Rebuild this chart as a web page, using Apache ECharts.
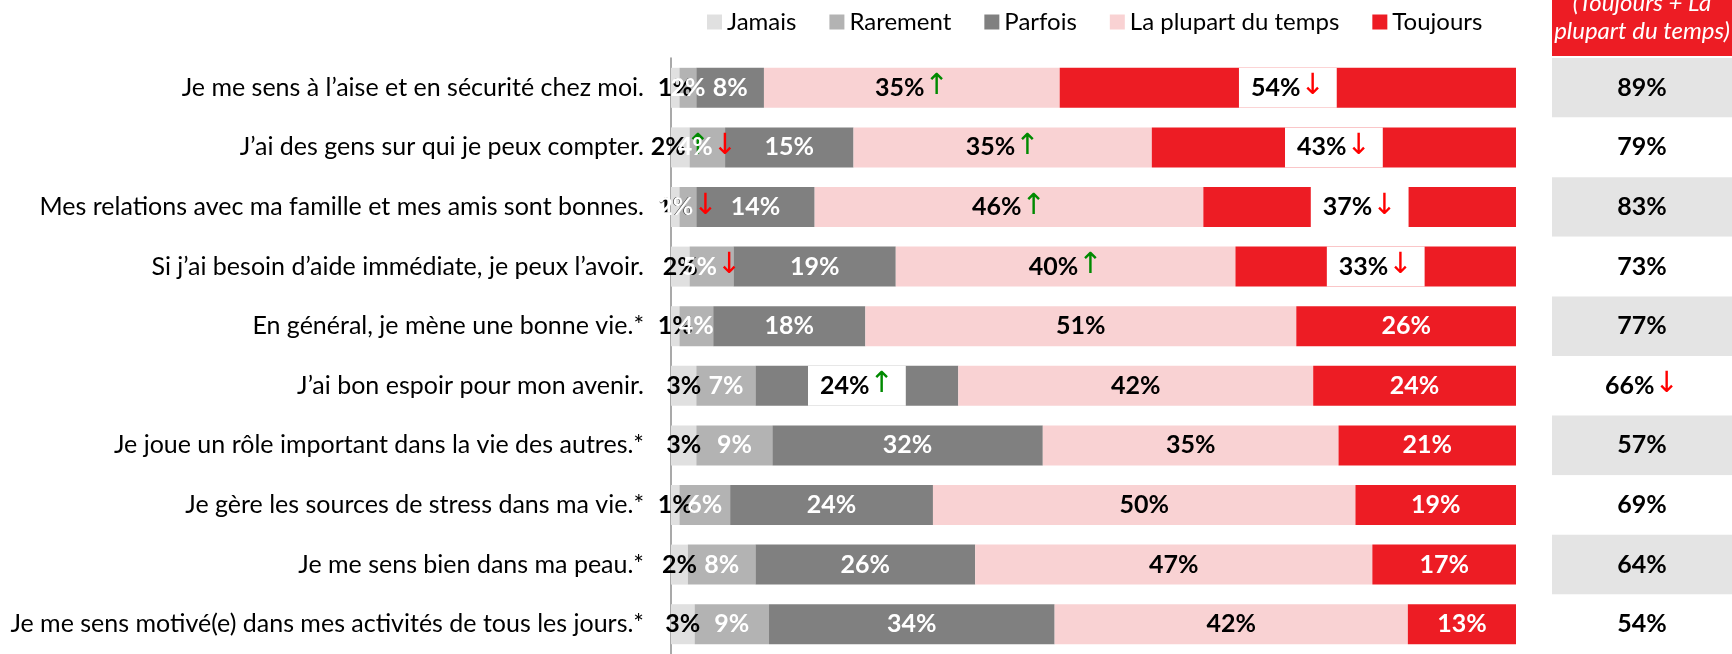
<!DOCTYPE html>
<html>
<head>
<meta charset="utf-8">
<script src="https://cdn.jsdelivr.net/npm/echarts@6/dist/echarts.min.js"></script>
<style>
html, body { margin: 0; padding: 0; background: #fff; }
#chart { width: 1732px; height: 654px; }
</style>
</head>
<body>
<div id="chart"></div>
<script>
// questions, top to bottom
const categories = [
  'Je me sens à l’aise et en sécurité chez moi.',
  'J’ai des gens sur qui je peux compter.',
  'Mes relations avec ma famille et mes amis sont bonnes.',
  'Si j’ai besoin d’aide immédiate, je peux l’avoir.',
  'En général, je mène une bonne vie.*',
  'J’ai bon espoir pour mon avenir.',
  'Je joue un rôle important dans la vie des autres.*',
  'Je gère les sources de stress dans ma vie.*',
  'Je me sens bien dans ma peau.*',
  'Je me sens motivé(e) dans mes activités de tous les jours.*'
]

// % of answers (estimated unrounded, labels show rounded)
const jamais = [1, 2.2, 1, 2.2, 1, 3, 3, 1, 2, 2.8]
const rarement = [2, 4.2, 2, 5.2, 4, 7, 9, 6, 8, 8.8]
const parfois = [8, 15.2, 14, 19.2, 18, 24, 32, 24, 26, 33.8]
const plupart = [35, 35.3, 46, 40.2, 51, 42, 35, 50, 47, 41.8]
const toujours = [54, 43.1, 37, 33.2, 26, 24, 21, 19, 17, 12.8]

// Toujours + La plupart du temps
const totals = [89, 79, 83, 73, 77, 66, 57, 69, 64, 54]

// significant changes (up / down)
const jamaisTrend = ['', 'up', '', '', '', '', '', '', '', '']
const rarementTrend = ['', 'down', 'down', 'down', '', '', '', '', '', '']
const parfoisTrend = ['', '', '', '', '', 'up', '', '', '', '']
const plupartTrend = ['up', 'up', 'up', 'up', '', '', '', '', '', '']
const toujoursTrend = ['down', 'down', 'down', 'down', '', '', '', '', '', '']
const totalTrend = ['', '', '', '', '', 'down', '', '', '', '']

const FONT = 'Lato, "Open Sans", sans-serif'

function richFor(color) {
  return {
    v: { color: color, fontFamily: FONT, fontWeight: 'bold', fontSize: 25, lineHeight: 24 },
    up: { color: '#008a00', fontFamily: '"DejaVu Sans"', fontSize: 29, lineHeight: 24, padding: [0, 0, 2, 0] },
    dn: { color: '#ff0000', fontFamily: '"DejaVu Sans"', fontSize: 29, lineHeight: 24, padding: [0, 0, 2, 0] }
  }
}

function fmt(value, t) {
  let s = '{v|' + Math.round(value) + '%}'
  if (t === 'up') s += '{up|↑}'
  if (t === 'down') s += '{dn|↓}'
  return s
}

// boxed: black text on a white box when an arrow sits on a dark segment
function makeSeries(name, values, trend, color, textColor, boxed) {
  return {
    name: name,
    type: 'bar',
    stack: 'total',
    barWidth: 40,
    xAxisIndex: 0,
    yAxisIndex: 0,
    itemStyle: { color: color },
    emphasis: { disabled: true },
    label: {
      show: true,
      position: 'inside',
      formatter: p => fmt(p.value, trend[p.dataIndex]),
      rich: richFor(textColor)
    },
    data: values.map((v, i) => {
      if (boxed && trend[i]) {
        return {
          value: v,
          label: {
            backgroundColor: '#fff',
            padding: [8, 12],
            rich: richFor('#000')
          }
        }
      }
      return v
    })
  }
}

const chart = echarts.init(document.getElementById('chart'))

chart.setOption({
  animation: false,
  textStyle: { fontFamily: FONT },
  legend: {
    left: 702,
    top: 5,
    itemWidth: 15,
    itemHeight: 15,
    itemGap: 33,
    icon: 'rect',
    selectedMode: false,
    textStyle: { fontFamily: FONT, fontSize: 24, color: '#000' },
    data: ['Jamais', 'Rarement', 'Parfois', 'La plupart du temps', 'Toujours']
  },
  grid: [
    { left: 671, top: 58, width: 845, height: 600 },
    { left: 1552, top: 58, width: 180, height: 600 }
  ],
  xAxis: [
    { gridIndex: 0, type: 'value', min: 0, max: 100, show: false },
    { gridIndex: 1, type: 'category', data: ['total'], show: false }
  ],
  yAxis: [
    {
      gridIndex: 0,
      type: 'category',
      inverse: true,
      data: categories,
      axisTick: { show: false },
      axisLine: { show: true, lineStyle: { color: '#8c8c8c', width: 1.5 } },
      axisLabel: { margin: 27, fontFamily: FONT, fontSize: 25, color: '#000' }
    },
    {
      gridIndex: 1,
      type: 'category',
      inverse: true,
      data: categories,
      axisTick: { show: false },
      axisLine: { show: false },
      axisLabel: { show: false },
      splitLine: { show: false },
      splitArea: { show: true, areaStyle: { color: ['#e4e4e4', '#ffffff'] } }
    }
  ],
  graphic: [
    { type: 'rect', left: 1552, top: 0, shape: { width: 180, height: 56 }, style: { fill: '#ed1c24' } },
    { type: 'text', x: 1642, y: 3, style: { text: '(Toujours + La', fill: '#fff', font: 'italic 24px Lato', align: 'center', verticalAlign: 'middle' } },
    { type: 'text', x: 1642, y: 31, style: { text: 'plupart du temps)', fill: '#fff', font: 'italic 24px Lato', align: 'center', verticalAlign: 'middle' } }
  ],
  series: [
    makeSeries('Jamais', jamais, jamaisTrend, '#e0e0e0', '#000', false),
    makeSeries('Rarement', rarement, rarementTrend, '#b3b3b3', '#fff', false),
    makeSeries('Parfois', parfois, parfoisTrend, '#808080', '#fff', true),
    makeSeries('La plupart du temps', plupart, plupartTrend, '#f9d2d3', '#000', false),
    makeSeries('Toujours', toujours, toujoursTrend, '#ed1c24', '#fff', true),
    {
      name: 'total',
      type: 'scatter',
      xAxisIndex: 1,
      yAxisIndex: 1,
      symbolSize: 1,
      itemStyle: { color: 'rgba(0,0,0,0)', opacity: 1 },
      emphasis: { disabled: true },
      label: {
        show: true,
        position: 'inside',
        formatter: p => fmt(p.value[2], totalTrend[p.dataIndex]),
        rich: richFor('#000')
      },
      data: totals.map((v, i) => ['total', categories[i], v])
    }
  ]
})
</script>
</body>
</html>
